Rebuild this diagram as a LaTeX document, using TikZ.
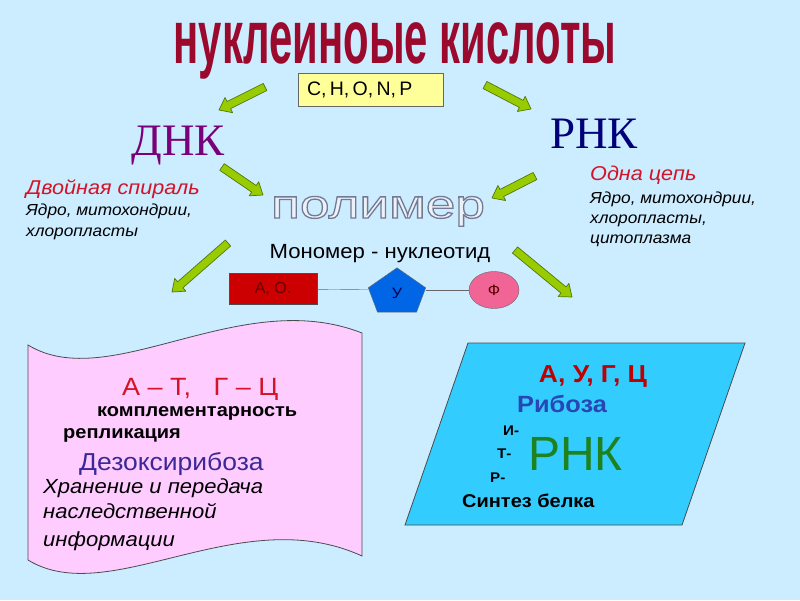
\documentclass[tikz,border=0pt]{standalone}
\usepackage{fontspec}
\setmainfont[FakeStretch=1.08]{Liberation Sans}
\newfontfamily\plainsans{Liberation Sans}
\newfontfamily\serifcyr{Liberation Serif}
\newfontfamily\titlefont[FakeStretch=0.55]{Liberation Sans}
\newfontfamily\widefont[FakeStretch=1.33]{Liberation Sans}
\usetikzlibrary{calc, shapes.geometric}

\definecolor{bgblue}{RGB}{204,236,255}
\definecolor{titlered}{RGB}{155,10,45}
\definecolor{arrowgreen}{RGB}{153,204,0}
\definecolor{arrowedge}{RGB}{80,120,10}
\definecolor{boxyellow}{RGB}{255,255,153}
\definecolor{dnapurple}{RGB}{120,0,120}
\definecolor{rnanavy}{RGB}{0,0,120}
\definecolor{notered}{RGB}{210,20,40}
\definecolor{polyfill}{RGB}{236,242,250}
\definecolor{scrollpink}{RGB}{255,204,255}
\definecolor{paracyan}{RGB}{51,204,255}
\definecolor{sugarblue}{RGB}{0,102,230}
\definecolor{phospink}{RGB}{240,100,150}
\definecolor{deoxy}{RGB}{60,40,150}
\definecolor{ribo}{RGB}{40,70,180}
\definecolor{rnagreen}{RGB}{30,130,30}

% fat green arrow from #1 to #2
\newcommand{\greenarrow}[2]{%
  \coordinate (neck) at ($(#2)!11pt!(#1)$);
  \filldraw[fill=arrowgreen, draw=arrowedge, line width=0.7pt, line join=round]
    ($(#1)!4pt!90:(#2)$) -- ($(neck)!4pt!90:(#2)$) -- ($(neck)!8.5pt!90:(#2)$)
    -- (#2) -- ($(neck)!8.5pt!-90:(#2)$) -- ($(neck)!4pt!-90:(#2)$)
    -- ($(#1)!4pt!-90:(#2)$) -- cycle;
}

\begin{document}
\begin{tikzpicture}[x=1pt, y=-1pt,
    lbl/.style={inner sep=0pt, anchor=base west},
    mid/.style={inner sep=0pt, anchor=base}]
    \useasboundingbox (0,0) rectangle (800,600);
    \fill[bgblue] (0,0) rectangle (800,600);

    % Title and elements
    \node[mid, text=titlered] (title) at (395,63) {\titlefont\fontsize{76}{78}\selectfont\bfseries нуклеиноые кислоты};
    \node[draw=black!60, fill=boxyellow, minimum width=145, minimum height=33,
          text width=127, inner xsep=9, align=left] (elem) at (370.5,89.5)
          {\plainsans\fontsize{19.5}{21}\selectfont C, H, O, N, P};

    % DNA and RNA headings
    \node[mid, text=dnapurple] (dna) at (178,155) {\serifcyr\fontsize{45}{46}\selectfont ДНК};
    \node[mid, text=rnanavy] (rna) at (594,148) {\serifcyr\fontsize{45}{46}\selectfont РНК};

    \node[lbl, text=notered] (dnachain) at (26,194) {\fontsize{20}{22}\selectfont\itshape Двойная спираль};
    \node[lbl] (dnaloc1) at (26,215) {\fontsize{16}{18}\selectfont\itshape Ядро, митохондрии,};
    \node[lbl] (dnaloc2) at (26,236) {\fontsize{16}{18}\selectfont\itshape хлоропласты};

    \node[lbl, text=notered] (rnachain) at (590,180) {\fontsize{20}{22}\selectfont\itshape Одна цепь};
    \node[lbl] (rnaloc1) at (590,203) {\fontsize{16}{18}\selectfont\itshape Ядро, митохондрии,};
    \node[lbl] (rnaloc2) at (590,223) {\fontsize{16}{18}\selectfont\itshape хлоропласты,};
    \node[lbl] (rnaloc3) at (590,243) {\fontsize{16}{18}\selectfont\itshape цитоплазма};

    % Polymer and monomer
    \node[mid, text=polyfill] (poly) at (378,218) {\widefont\fontsize{40}{42}\selectfont
        \special{pdf:literal direct 2 Tr 1.3 w 0.45 0.48 0.58 RG}полимер\special{pdf:literal direct 0 Tr}};
    \node[mid] (mono) at (380,258) {\fontsize{20.5}{22}\selectfont Мономер - нуклеотид};

    % Nucleotide
    \node[draw=black!70, fill=red!80!black, minimum width=88, minimum height=31,
          text=red!40!black] (base) at (273,289) {\plainsans\fontsize{16}{18}\selectfont А, О.};
    \node[minimum width=57, minimum height=44, inner sep=0pt] (sugar) at (397,290) {};
    \node[ellipse, draw=black!60, fill=phospink, minimum width=50, minimum height=37,
          inner sep=0pt, text=red!35!black] (phos) at (494,290) {\fontsize{15}{18}\selectfont Ф};
    \draw[black!60] (base) -- (sugar);
    \draw[black!60] (sugar) -- (phos);
    \filldraw[fill=sugarblue, draw=black!60]
        (sugar.north) -- ($(sugar.north east)!0.45!(sugar.south east)$)
        -- ($(sugar.south)!0.68!(sugar.south east)$) -- ($(sugar.south)!0.68!(sugar.south west)$)
        -- ($(sugar.north west)!0.45!(sugar.south west)$) -- cycle;
    \node[text=blue!30!black] (sugarlbl) at (397,293) {\fontsize{15}{18}\selectfont У};

    % Arrows
    \coordinate (toDnaS) at (265,87);   \coordinate (toDnaE) at (219,110);
    \coordinate (toRnaS) at (485,85);   \coordinate (toRnaE) at (531,109);
    \coordinate (dnaPolS) at (222,167); \coordinate (dnaPolE) at (263,195);
    \coordinate (rnaPolS) at (535,176); \coordinate (rnaPolE) at (492,198);
    \coordinate (dnaDownS) at (228,243); \coordinate (dnaDownE) at (172,292);
    \coordinate (rnaDownS) at (515,250); \coordinate (rnaDownE) at (572,297);
    \greenarrow{toDnaS}{toDnaE}
    \greenarrow{toRnaS}{toRnaE}
    \greenarrow{dnaPolS}{dnaPolE}
    \greenarrow{rnaPolS}{rnaPolE}
    \greenarrow{dnaDownS}{dnaDownE}
    \greenarrow{rnaDownS}{rnaDownE}

    % DNA scroll
    \filldraw[fill=scrollpink, draw=black!70, line width=0.8pt]
        (28,345) .. controls (110,395) and (240,285) .. (362,333)
        -- (362,556) .. controls (240,500) and (110,610) .. (28,560) -- cycle;
    \node[lbl, text=notered] (pairs) at (122,395) {\fontsize{25}{28}\selectfont А – Т,\ \ \ Г – Ц};
    \node[lbl] (compl) at (97,416) {\fontsize{18.5}{20}\selectfont\bfseries комплементарность};
    \node[lbl] (repl) at (63,438) {\fontsize{18.5}{20}\selectfont\bfseries репликация};
    \node[lbl, text=deoxy] (dsugar) at (79,470) {\fontsize{24.5}{26}\selectfont Дезоксирибоза};
    \node[lbl] (dfunc1) at (43,493) {\fontsize{20.4}{22}\selectfont\itshape Хранение и передача};
    \node[lbl] (dfunc2) at (43,518) {\fontsize{20.4}{22}\selectfont\itshape наследственной};
    \node[lbl] (dfunc3) at (43,546) {\fontsize{20.4}{22}\selectfont\itshape информации};

    % RNA parallelogram
    \filldraw[fill=paracyan, draw=black!70, line width=0.8pt]
        (468,343) -- (745,343) -- (682,525) -- (405,525) -- cycle;
    \node[mid, text=red!75!black] (rbases) at (593,382) {\fontsize{24.5}{26}\selectfont\bfseries А, У, Г, Ц};
    \node[lbl, text=ribo] (rsugar) at (517,412) {\fontsize{23.5}{25}\selectfont\bfseries Рибоза};
    \node[lbl] (mrna) at (503,435) {\fontsize{14}{16}\selectfont\bfseries И-};
    \node[lbl] (trna) at (497,458) {\fontsize{14}{16}\selectfont\bfseries Т-};
    \node[lbl] (rrna) at (490,482) {\fontsize{14}{16}\selectfont\bfseries Р-};
    \node[lbl, text=rnagreen] (rnabig) at (528,470) {\plainsans\fontsize{48}{50}\selectfont РНК};
    \node[lbl] (rfunc) at (462,507) {\fontsize{18.5}{20}\selectfont\bfseries Синтез белка};
\end{tikzpicture}
\end{document}
